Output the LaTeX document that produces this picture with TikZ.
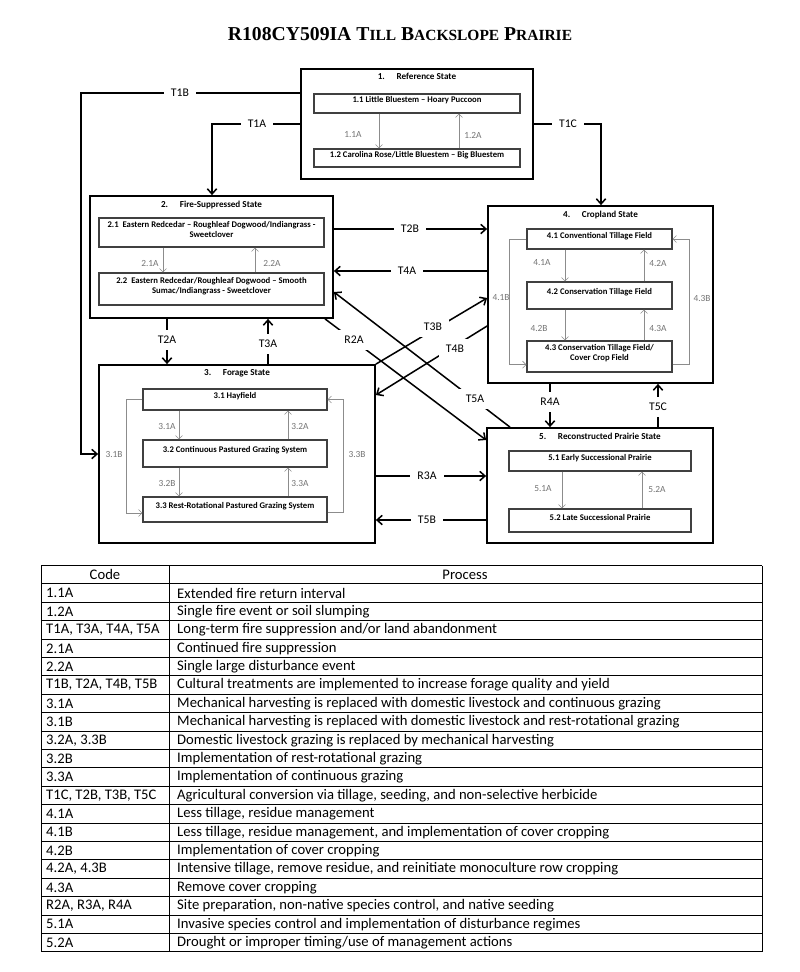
\documentclass[tikz,border=0pt]{standalone}
\usepackage{fontspec}
\setmainfont{Carlito}
\newfontfamily\titlefont{Liberation Serif}
\usetikzlibrary{arrows.meta,positioning,fit}

\newcommand{\fakesc}[1]{{\fontsize{13.2}{13.2}\selectfont #1}}

\begin{document}
\begin{tikzpicture}[x=0.3mm, y=-0.3mm, >={Straight Barb[length=4.5pt,width=8pt]},
  statebox/.style={draw, line width=1.5pt, inner sep=0pt},
  subbox/.style={draw=black!75, line width=0.9pt, inner sep=0pt, align=center, font=\fontsize{7.4}{8.6}\selectfont\bfseries},
  stitle/.style={inner sep=1pt, font=\fontsize{7.8}{9}\selectfont\bfseries},
  transline/.style={line width=1.3pt},
  tlab/.style={fill=white, inner xsep=6pt, inner ysep=5pt, font=\fontsize{10}{11}\selectfont},
  pathway/.style={draw=black!45, line width=0.5pt, -{Straight Barb[length=3pt,width=6pt]}},
  plab/.style={inner sep=1pt, text=black!55, font=\fontsize{8}{9}\selectfont},
  tabline/.style={line width=0.8pt},
  cell/.style={inner sep=0pt, anchor=west, font=\fontsize{12.5}{14}\selectfont}]
\useasboundingbox (0,0) rectangle (800,972);
%\draw[help lines, step=50] (0,0) grid (800,972);
%==================== Title ==================
\node (title) at (400,34) {\titlefont\bfseries\fontsize{16.8}{16.8}\selectfont R108CY509IA T\fakesc{ILL} B\fakesc{ACKSLOPE} P\fakesc{RAIRIE}};
%==================== State 1 ==================
\node[statebox, fit={(301,69) (533,179)}] (s1) {};
\node[stitle, below=3.5pt of s1.north] (s1t) {1.\hspace{10pt}Reference State};
\node[subbox, fit={(314,94) (520,113)}] (b11) {1.1 Little Bluestem – Hoary Puccoon};
\node[subbox, fit={(314,149) (520,167)}] (b12) {1.2 Carolina Rose/Little Bluestem – Big Bluestem};
\draw[pathway] (b11.south -| 379,0) -- (b12.north -| 379,0);
\draw[pathway] (b12.north -| 459,0) -- (b11.south -| 459,0);
\node[plab] (p11a) at (353,135) {1.1A};
\node[plab] (p12a) at (473,135) {1.2A};
%==================== State 2 ==================
\node[statebox, fit={(90,196) (333,318)}] (s2) {};
\node[stitle, below=3.5pt of s2.north] (s2t) {2.\hspace{10pt}Fire-Suppressed State};
\node[subbox, fit={(99,218) (324,247)}] (b21) {2.1\ \ Eastern Redcedar – Roughleaf Dogwood/Indiangrass -\\Sweetclover};
\node[subbox, fit={(99,273) (324,305)}] (b22) {2.2\ \ Eastern Redcedar/Roughleaf Dogwood – Smooth\\Sumac/Indiangrass - Sweetclover};
\draw[pathway] (b21.south -| 163,0) -- (b22.north -| 163,0);
\draw[pathway] (b22.north -| 255,0) -- (b21.south -| 255,0);
\node[plab] (p21a) at (150,263) {2.1A};
\node[plab] (p22a) at (272,263) {2.2A};
%==================== State 3 ==================
\node[statebox, fit={(99,365) (375,543)}] (s3) {};
\node[stitle, below=3.5pt of s3.north] (s3t) {3.\hspace{10pt}Forage State};
\node[subbox, fit={(143,389) (327,410)}] (b31) {3.1 Hayfield};
\node[subbox, fit={(143,440) (327,467)}] (b32) {3.2 Continuous Pastured Grazing System};
\node[subbox, fit={(143,497) (327,522)}] (b33) {3.3 Rest-Rotational Pastured Grazing System};
\draw[pathway] (b31.south -| 179,0) -- (b32.north -| 179,0);
\draw[pathway] (b32.north -| 288,0) -- (b31.south -| 288,0);
\draw[pathway] (b32.south -| 179,0) -- (b33.north -| 179,0);
\draw[pathway] (b33.north -| 288,0) -- (b32.south -| 288,0);
\draw[pathway] (b31.west) -- ++(-16,0) |- ([yshift=-3pt]b33.west);
\draw[pathway] ([yshift=-2pt]b33.east) -- ++(16,0) |- (b31.east);
\node[plab] (p31a) at (167,426) {3.1A};
\node[plab] (p32a) at (300,426) {3.2A};
\node[plab] (p32b) at (167,483) {3.2B};
\node[plab] (p33a) at (300,483) {3.3A};
\node[plab] (p31b) at (114,454) {3.1B};
\node[plab] (p33b) at (357,454) {3.3B};
%==================== State 4 ==================
\node[statebox, fit={(488,206) (713,383)}] (s4) {};
\node[stitle, below=3.5pt of s4.north] (s4t) {4.\hspace{10pt}Cropland State};
\node[subbox, fit={(527,229) (672,249)}] (b41) {4.1 Conventional Tillage Field};
\node[subbox, fit={(527,282) (672,309)}] (b42) {4.2 Conservation Tillage Field};
\node[subbox, fit={(527,341) (672,372)}] (b43) {4.3 Conservation Tillage Field/\\Cover Crop Field};
\draw[pathway] (b41.south -| 565,0) -- (b42.north -| 565,0);
\draw[pathway] (b42.north -| 644,0) -- (b41.south -| 644,0);
\draw[pathway] (b42.south -| 565,0) -- (b43.north -| 565,0);
\draw[pathway] (b43.north -| 644,0) -- (b42.south -| 644,0);
\draw[pathway] (b41.west) -- ++(-17,0) |- ([yshift=-7pt]b43.west);
\draw[pathway] ([yshift=-7pt]b43.east) -- ++(17,0) |- (b41.east);
\node[plab] (p41a) at (542,263) {4.1A};
\node[plab] (p42a) at (658,263) {4.2A};
\node[plab] (p42b) at (539,328) {4.2B};
\node[plab] (p43a) at (658,328) {4.3A};
\node[plab] (p41b) at (501,298) {4.1B};
\node[plab] (p43b) at (702,298) {4.3B};
%==================== State 5 ==================
\node[statebox, fit={(487,428) (713,543)}] (s5) {};
\node[stitle, below=3.5pt of s5.north] (s5t) {5.\hspace{10pt}Reconstructed Prairie State};
\node[subbox, fit={(509,451) (691,471)}] (b51) {5.1 Early Successional Prairie};
\node[subbox, fit={(509,509) (691,532)}] (b52) {5.2 Late Successional Prairie};
\draw[pathway] (b51.south -| 562,0) -- (b52.north -| 562,0);
\draw[pathway] (b52.north -| 642,0) -- (b51.south -| 642,0);
\node[plab] (p51a) at (543,489) {5.1A};
\node[plab] (p52a) at (657,489) {5.2A};
%==================== Transitions ==================
\draw[transline,->] (s1.west |- 0,93) -| (81,454) -- (s3.west |- 0,454);
\draw[transline,->] (s1.west |- 0,124) -| (s2.north -| 212,0);
\draw[transline,->] (s1.east |- 0,124) -| (s4.north -| 601,0);
\draw[transline,->] (s2.east |- 0,229) -- (s4.west |- 0,229);
\draw[transline,->] (s4.west |- 0,271) -- (s2.east |- 0,271);
\draw[transline,->] (s2.south -| 167,0) -- (s3.north -| 167,0);
\draw[transline,->] (s3.north -| 268,0) -- (s2.south -| 268,0);
\draw[transline,->] (s3.north east) -- (s4.west |- 0,298);
\draw[transline,->] (s4.west |- 0,326) -- (s3.east |- 0,395);
\draw[transline,->] (s2.south -| 325,0) -- (s5.west |- 0,440);
\draw[transline,->] (s5.north -| 510,0) -- (s2.east |- 0,292);
\draw[transline,->] (s3.east |- 0,476) -- (s5.west |- 0,476);
\draw[transline,->] (s5.west |- 0,520) -- (s3.east |- 0,520);
\draw[transline,->] (s4.south -| 550,0) -- (s5.north -| 550,0);
\draw[transline,->] (s5.north -| 658,0) -- (s4.south -| 658,0);
%==================== Labels ==================
\node[tlab] (lt1b) at (180,93) {T1B};
\node[tlab] (lt1a) at (257,124) {T1A};
\node[tlab] (lt1c) at (568,124) {T1C};
\node[tlab] (lt2b) at (410,229) {T2B};
\node[tlab] (lt4a) at (407,271) {T4A};
\node[tlab] (lt2a) at (167,340) {T2A};
\node[tlab] (lt3a) at (268,344) {T3A};
\node[tlab] (lt3b) at (433,327) {T3B};
\node[tlab] (lt4b) at (455,349) {T4B};
\node[tlab] (lr2a) at (354,340) {R2A};
\node[tlab] (lt5a) at (475,399) {T5A};
\node[tlab] (lr3a) at (427,476) {R3A};
\node[tlab] (lt5b) at (427,520) {T5B};
\node[tlab] (lr4a) at (550,402) {R4A};
\node[tlab] (lt5c) at (658,407) {T5C};
%==================== Table ==================
\foreach \i in {0,...,21} \draw[tabline] (41,{565.5+18.4*\i}) -- (762,{565.5+18.4*\i});
\foreach \xx in {41,169,762} \draw[tabline] (\xx,565.5) -- (\xx,951.9);
\node[cell, anchor=center] (hcode) at (105,574.7) {Code};
\node[cell, anchor=center] (hproc) at (465,574.7) {Process};
\foreach \code/\proc [count=\i] in {
  1.1A/Extended fire return interval,
  1.2A/Single fire event or soil slumping,
  {T1A, T3A, T4A, T5A}/{Long-term fire suppression and/or land abandonment},
  2.1A/Continued fire suppression,
  2.2A/Single large disturbance event,
  {T1B, T2A, T4B, T5B}/{Cultural treatments are implemented to increase forage quality and yield},
  3.1A/Mechanical harvesting is replaced with domestic livestock and continuous grazing,
  3.1B/Mechanical harvesting is replaced with domestic livestock and rest-rotational grazing,
  {3.2A, 3.3B}/Domestic livestock grazing is replaced by mechanical harvesting,
  3.2B/Implementation of rest-rotational grazing,
  3.3A/Implementation of continuous grazing,
  {T1C, T2B, T3B, T5C}/{Agricultural conversion via tillage, seeding, and non-selective herbicide},
  4.1A/{Less tillage, residue management},
  4.1B/{Less tillage, residue management, and implementation of cover cropping},
  4.2B/Implementation of cover cropping,
  {4.2A, 4.3B}/{Intensive tillage, remove residue, and reinitiate monoculture row cropping},
  4.3A/Remove cover cropping,
  {R2A, R3A, R4A}/{Site preparation, non-native species control, and native seeding},
  5.1A/Invasive species control and implementation of disturbance regimes,
  5.2A/{Drought or improper timing/use of management actions}} {
  \node[cell] (code\i) at (46,{565.5+18.4*(\i+0.5)}) {\code};
  \node[cell] (proc\i) at (177,{565.5+18.4*(\i+0.5)}) {\proc};
}
\end{tikzpicture}
\end{document}
